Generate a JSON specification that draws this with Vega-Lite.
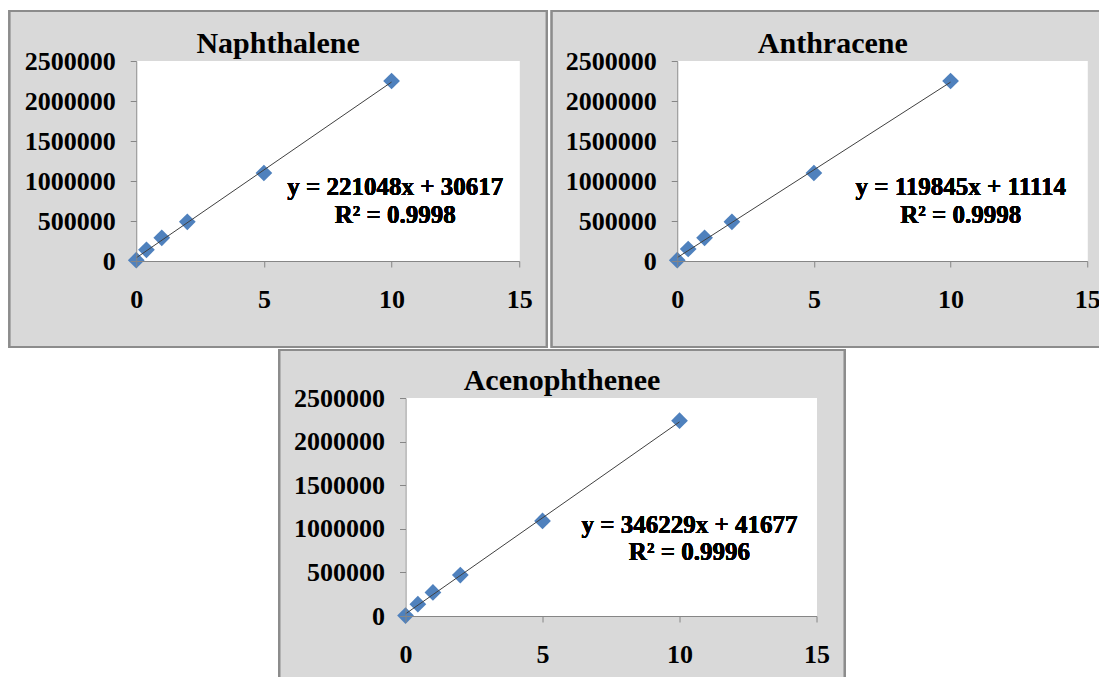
{
  "$schema": "https://vega.github.io/schema/vega-lite/v6.json",
  "background": "white",
  "padding": {"left": 8, "top": 10, "right": 0, "bottom": 0},
  "config": {
    "view": {"stroke": null},
    "font": "Liberation Serif",
    "axis": {"labelFont": "Liberation Serif", "labelFontSize": 26, "labelFontWeight": "bold", "labelColor": "black", "domainColor": "#868686", "tickColor": "#868686", "grid": false, "tickSize": 6, "domainWidth": 1, "tickWidth": 1, "labelOverlap": false, "labelFlush": false, "labelBound": false},
    "axisX": {"labelPadding": 19},
    "axisY": {"labelPadding": 15},
    "title": {"font": "Liberation Serif", "fontSize": 30, "fontWeight": "bold", "color": "black", "anchor": "middle", "frame": "bounds", "baseline": "alphabetic", "offset": -49, "zindex": 1}
  },
  "spacing": 0,
  "center": true,
  "vconcat": [
    {
      "spacing": 2,
      "hconcat": [
        {
          "title": "Naphthalene",
          "width": 383, "height": 200,
          "data": {"values": [
            {"x": 0, "y": 10000}, {"x": 0.4, "y": 140000}, {"x": 1, "y": 290000},
            {"x": 2, "y": 490000}, {"x": 5, "y": 1100000}, {"x": 10, "y": 2250000}
          ]},
          "layer": [
            {"mark": {"type": "rect", "fill": "#d9d9d9", "stroke": "#8c8c8c", "strokeWidth": 2, "clip": false},
             "encoding": {
               "x": {"datum": -4.96, "type": "quantitative", "title": null, "scale": {"domain": [0, 15], "nice": false, "zero": false}, "axis": {"values": [0, 5, 10, 15], "title": null, "zindex": 2, "labelOverlap": false}},
               "x2": {"datum": 16.07},
               "y": {"datum": 3125000, "type": "quantitative", "title": null, "scale": {"domain": [0, 2500000], "nice": false}, "axis": {"values": [0, 500000, 1000000, 1500000, 2000000, 2500000], "format": "d", "title": null, "zindex": 2, "labelOverlap": false, "tickCount": 6}},
               "y2": {"datum": -1075000}}},
            {"mark": {"type": "rect", "fill": "white"},
             "encoding": {"x": {"datum": 0, "type": "quantitative", "title": null}, "x2": {"datum": 15}, "y": {"datum": 0, "type": "quantitative", "title": null}, "y2": {"datum": 2500000}}},
            {"mark": {"type": "point", "shape": "diamond", "filled": true, "size": 280, "color": "#4f81bd", "opacity": 1},
             "encoding": {"x": {"field": "x", "type": "quantitative", "title": null}, "y": {"field": "y", "type": "quantitative", "title": null}}},
            {"transform": [{"regression": "y", "on": "x"}],
             "mark": {"type": "line", "color": "#404040", "strokeWidth": 1},
             "encoding": {"x": {"field": "x", "type": "quantitative", "title": null}, "y": {"field": "y", "type": "quantitative", "title": null}}},
            {"mark": {"type": "text", "font": "Liberation Serif", "fontSize": 25, "fontWeight": "bold", "align": "center", "baseline": "alphabetic", "lineHeight": 28, "color": "black"},
             "encoding": {"x": {"datum": 10.14, "type": "quantitative", "title": null}, "y": {"datum": 825000, "type": "quantitative", "title": null}, "text": {"value": ["y = 221048x + 30617", "R² = 0.9998"]}}}
          ]
        },
        {
          "title": "Anthracene",
          "width": 410, "height": 200,
          "data": {"values": [
            {"x": 0, "y": 10000}, {"x": 0.4, "y": 150000}, {"x": 1, "y": 290000},
            {"x": 2, "y": 490000}, {"x": 5, "y": 1100000}, {"x": 10, "y": 2250000}
          ]},
          "layer": [
            {"mark": {"type": "rect", "fill": "#d9d9d9", "stroke": "#8c8c8c", "strokeWidth": 2, "clip": false},
             "encoding": {
               "x": {"datum": -4.59, "type": "quantitative", "title": null, "scale": {"domain": [0, 15], "nice": false, "zero": false}, "axis": {"values": [0, 5, 10, 15], "title": null, "zindex": 2, "labelOverlap": false}},
               "x2": {"datum": 15.97},
               "y": {"datum": 3125000, "type": "quantitative", "title": null, "scale": {"domain": [0, 2500000], "nice": false}, "axis": {"values": [0, 500000, 1000000, 1500000, 2000000, 2500000], "format": "d", "title": null, "zindex": 2, "labelOverlap": false, "tickCount": 6}},
               "y2": {"datum": -1075000}}},
            {"mark": {"type": "rect", "fill": "white"},
             "encoding": {"x": {"datum": 0, "type": "quantitative", "title": null}, "x2": {"datum": 15}, "y": {"datum": 0, "type": "quantitative", "title": null}, "y2": {"datum": 2500000}}},
            {"mark": {"type": "point", "shape": "diamond", "filled": true, "size": 280, "color": "#4f81bd", "opacity": 1},
             "encoding": {"x": {"field": "x", "type": "quantitative", "title": null}, "y": {"field": "y", "type": "quantitative", "title": null}}},
            {"transform": [{"regression": "y", "on": "x"}],
             "mark": {"type": "line", "color": "#404040", "strokeWidth": 1},
             "encoding": {"x": {"field": "x", "type": "quantitative", "title": null}, "y": {"field": "y", "type": "quantitative", "title": null}}},
            {"mark": {"type": "text", "font": "Liberation Serif", "fontSize": 25, "fontWeight": "bold", "align": "center", "baseline": "alphabetic", "lineHeight": 28, "color": "black"},
             "encoding": {"x": {"datum": 10.37, "type": "quantitative", "title": null}, "y": {"datum": 825000, "type": "quantitative", "title": null}, "text": {"value": ["y = 119845x + 11114", "R² = 0.9998"]}}}
          ]
        }
      ]
    },
    {
      "title": {"text": "Acenophthenee", "offset": -47},
      "width": 411, "height": 218,
      "data": {"values": [
        {"x": 0, "y": 5000}, {"x": 0.45, "y": 135000}, {"x": 1, "y": 270000},
        {"x": 2, "y": 470000}, {"x": 5, "y": 1090000}, {"x": 10, "y": 2240000}
      ]},
      "layer": [
        {"mark": {"type": "rect", "fill": "#d9d9d9", "stroke": "#8c8c8c", "strokeWidth": 2, "clip": false},
         "encoding": {
           "x": {"datum": -4.6, "type": "quantitative", "title": null, "scale": {"domain": [0, 15], "nice": false, "zero": false}, "axis": {"values": [0, 5, 10, 15], "title": null, "zindex": 2, "labelOverlap": false}},
           "x2": {"datum": 16.02},
           "y": {"datum": 3050500, "type": "quantitative", "title": null, "scale": {"domain": [0, 2500000], "nice": false}, "axis": {"values": [0, 500000, 1000000, 1500000, 2000000, 2500000], "format": "d", "title": null, "zindex": 2, "labelOverlap": false, "tickCount": 6}},
           "y2": {"datum": -860000}}},
        {"mark": {"type": "rect", "fill": "white"},
         "encoding": {"x": {"datum": 0, "type": "quantitative", "title": null}, "x2": {"datum": 15}, "y": {"datum": 0, "type": "quantitative", "title": null}, "y2": {"datum": 2500000}}},
        {"mark": {"type": "point", "shape": "diamond", "filled": true, "size": 280, "color": "#4f81bd", "opacity": 1},
         "encoding": {"x": {"field": "x", "type": "quantitative", "title": null}, "y": {"field": "y", "type": "quantitative", "title": null}}},
        {"transform": [{"regression": "y", "on": "x"}],
         "mark": {"type": "line", "color": "#404040", "strokeWidth": 1},
         "encoding": {"x": {"field": "x", "type": "quantitative", "title": null}, "y": {"field": "y", "type": "quantitative", "title": null}}},
        {"mark": {"type": "text", "font": "Liberation Serif", "fontSize": 25, "fontWeight": "bold", "align": "center", "baseline": "alphabetic", "lineHeight": 27, "color": "black"},
         "encoding": {"x": {"datum": 10.36, "type": "quantitative", "title": null}, "y": {"datum": 955000, "type": "quantitative", "title": null}, "text": {"value": ["y = 346229x + 41677", "R² = 0.9996"]}}}
      ]
    }
  ]
}
